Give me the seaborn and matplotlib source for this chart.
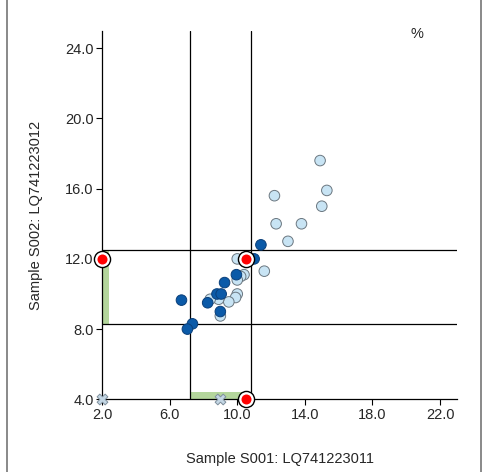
import matplotlib
matplotlib.use("Agg")
import matplotlib.pyplot as plt
import seaborn as sns
import pandas as pd
from matplotlib.lines import Line2D

# sample points, two groups
light_x = [14.9, 15.3, 15.0, 12.2, 12.3, 13.8, 13.0, 11.6, 10.0, 10.4, 10.2, 10.0,
           10.0, 9.9, 9.5, 8.9, 8.4, 9.0]
light_y = [17.6, 15.9, 15.0, 15.6, 14.0, 14.0, 13.0, 11.3, 12.0, 11.1, 11.0, 10.8,
           10.0, 9.8, 9.55, 9.7, 9.7, 8.75]
dark_x = [11.4, 11.0, 9.95, 9.25, 8.8, 9.05, 8.25, 6.7, 9.0, 7.35, 7.05]
dark_y = [12.8, 12.0, 11.1, 10.65, 10.0, 10.0, 9.5, 9.65, 9.0, 8.3, 8.0]

# selected point and its projections on the axes
sel_x = 10.5
sel_y = 12.0
proj_x = [2.0, 10.5]
proj_y = [12.0, 4.0]
miss_x = [2.0, 9.0]
miss_y = [4.0, 4.0]

# gate limits
gate_x = [7.2, 10.8]
gate_y = [8.3, 12.5]

x_ticks = [2.0, 6.0, 10.0, 14.0, 18.0, 22.0]
y_ticks = [4.0, 8.0, 12.0, 16.0, 20.0, 24.0]

sns.set_style("white")
plt.rcParams["font.family"] = ["Liberation Sans", "DejaVu Sans"]

df = pd.DataFrame({
    "x": light_x + dark_x,
    "y": light_y + dark_y,
    "group": ["light"] * len(light_x) + ["dark"] * len(dark_x),
})

fig = plt.figure(figsize=(4.89, 4.72), dpi=100)
ax = fig.add_axes([0.2086, 0.154, 0.726, 0.781])

ax.set_xlim(2.0, 23.0)
ax.set_ylim(4.0, 25.0)

# green range bars along the axes
ax.fill_betweenx(gate_y, 2.0, 2.42, color="#b4d69c", lw=0, zorder=1, clip_on=False)
ax.fill_between(gate_x, 4.0, 4.4, color="#b4d69c", lw=0, zorder=1, clip_on=False)

for gx in gate_x:
    ax.axvline(gx, color="black", lw=0.9, zorder=2)
for gy in gate_y:
    ax.axhline(gy, color="black", lw=0.9, zorder=2)

sns.scatterplot(data=df, x="x", y="y", hue="group",
                palette={"light": "#c8e4f4", "dark": "#0b5aa8"},
                s=58, linewidth=0.7, legend=False, ax=ax, zorder=3)
for coll in ax.collections[-1:]:
    ec = ["#6b7780" if g == "light" else "#0a3f7a" for g in df["group"]]
    coll.set_edgecolors(ec)

ax.scatter(miss_x, miss_y, marker="X", s=60, color="#c3d6e4", edgecolor="#7f8f9c",
           linewidth=0.7, zorder=4, clip_on=False)

all_hx = [sel_x] + proj_x
all_hy = [sel_y] + proj_y
ax.scatter(all_hx, all_hy, s=135, facecolor="white", edgecolor="black",
           linewidth=1.0, zorder=5, clip_on=False)
ax.scatter(all_hx, all_hy, s=52, color="#ff0000", linewidth=0, zorder=6, clip_on=False)

ax.set_xticks(x_ticks)
ax.set_yticks(y_ticks)
ax.set_xticklabels([f"{v:.1f}" for v in x_ticks])
ax.set_yticklabels([f"{v:.1f}" for v in y_ticks])
ax.tick_params(direction="out", length=4, width=0.8, labelsize=10.5,
               bottom=True, left=True, color="black", pad=2)

for side in ["top", "right"]:
    ax.spines[side].set_visible(False)
for side in ["left", "bottom"]:
    ax.spines[side].set_color("black")
    ax.spines[side].set_linewidth(0.9)

ax.set_xlabel("Sample S001: LQ741223011", fontsize=10.5, labelpad=22)
ax.set_ylabel("Sample S002: LQ741223012", fontsize=10.5, labelpad=16)

fig.text(0.852, 0.928, "%", fontsize=10.5, ha="center", va="center")

# outer frame lines
fig.add_artist(Line2D([7 / 489, 7 / 489], [0, 1], color="#808080", lw=1.3))
fig.add_artist(Line2D([481 / 489, 481 / 489], [0, 1], color="#808080", lw=1.3))

fig.savefig("out.png", dpi=100)
